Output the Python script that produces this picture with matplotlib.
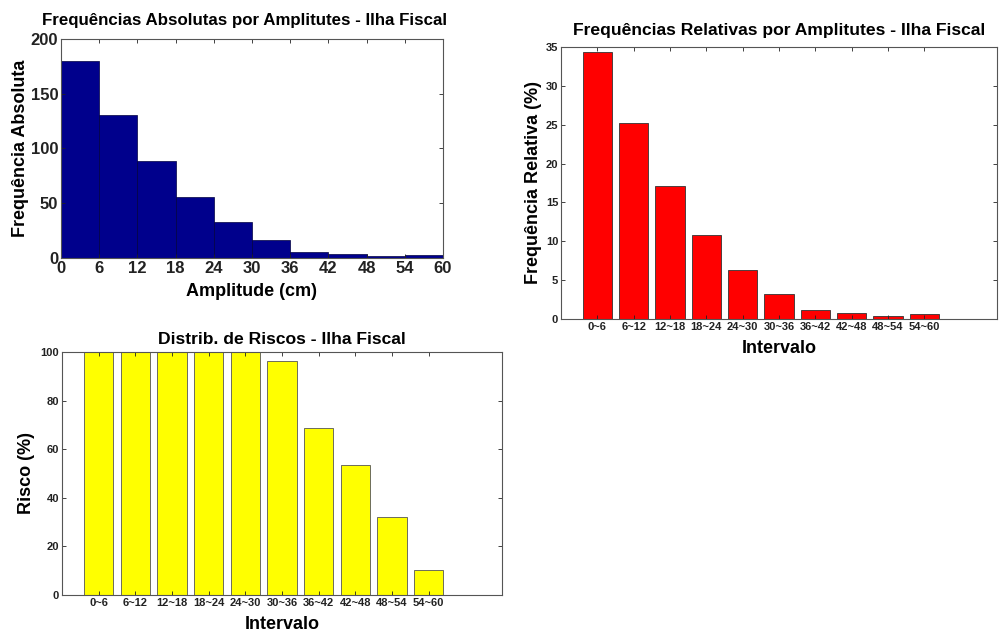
import matplotlib
matplotlib.use("Agg")
import matplotlib.pyplot as plt
import numpy as np

plt.rcParams['font.family'] = ['Liberation Sans', 'DejaVu Sans']
plt.rcParams['font.weight'] = 'bold'

# dados
bordas = [0, 6, 12, 18, 24, 30, 36, 42, 48, 54, 60]
freq_abs = [180, 131, 89, 56, 33, 16, 5.5, 3.5, 1.5, 2.5]
intervalos = ["0~6", "6~12", "12~18", "18~24", "24~30",
              "30~36", "36~42", "42~48", "48~54", "54~60"]
freq_rel = [34.3, 25.2, 17.1, 10.8, 6.3, 3.2, 1.1, 0.8, 0.4, 0.6]
risco = [100, 100, 100, 100, 100, 96.1, 68.7, 53.6, 31.9, 10.1]

W, H = 1001, 641
fig = plt.figure(figsize=(W / 100, H / 100), dpi=100)


def eixo(x0, y0, x1, y1):
    # coordenadas em pixels (origem no topo)
    return fig.add_axes([x0 / W, 1 - y1 / H, (x1 - x0) / W, (y1 - y0) / H])


def estilo(ax, tamanho):
    ax.tick_params(direction='in', top=True, right=True, length=3,
                   width=0.6, labelsize=tamanho, colors='#222222', pad=2)
    for s in ax.spines.values():
        s.set_color('#555555')
        s.set_linewidth(0.8)
    for lab in ax.get_xticklabels() + ax.get_yticklabels():
        lab.set_fontweight('bold')


# histograma
ax1 = eixo(61, 39, 443, 258)
ax1.bar(bordas[:-1], freq_abs, width=np.diff(bordas), align='edge',
        color='#00008C', edgecolor='#000040', linewidth=0.5)
ax1.set_xlim(0, 60)
ax1.set_ylim(0, 200)
ax1.set_xticks(bordas)
ax1.set_yticks([0, 50, 100, 150, 200])
estilo(ax1, 12)
ax1.set_title('Frequências Absolutas por Amplitutes - Ilha Fiscal',
              fontsize=12.2, fontweight='bold', pad=10, x=0.48)
ax1.set_xlabel('Amplitude (cm)', fontsize=13, fontweight='bold', labelpad=5)
ax1.set_ylabel('Frequência Absoluta', fontsize=13, fontweight='bold', labelpad=1)

# frequencias relativas
pos = np.arange(1, len(intervalos) + 1)
ax2 = eixo(561, 47, 997, 319)
ax2.bar(pos, freq_rel, width=0.8, color='#FF0000', edgecolor='#333333',
        linewidth=0.6)
ax2.set_xlim(0, 12)
ax2.set_ylim(0, 35)
ax2.set_xticks(pos)
ax2.set_xticklabels(intervalos)
ax2.set_yticks(range(0, 36, 5))
estilo(ax2, 8)
ax2.set_title('Frequências Relativas por Amplitutes - Ilha Fiscal',
              fontsize=12.6, fontweight='bold', pad=9)
ax2.set_xlabel('Intervalo', fontsize=13, fontweight='bold', labelpad=6)
ax2.set_ylabel('Frequência Relativa (%)', fontsize=13, fontweight='bold',
               labelpad=3)

# riscos
ax3 = eixo(62, 352, 502, 595)
ax3.bar(pos, risco, width=0.8, color='#FFFF00', edgecolor='#555555',
        linewidth=0.6)
ax3.set_xlim(0, 12)
ax3.set_ylim(0, 100)
ax3.set_xticks(pos)
ax3.set_xticklabels(intervalos)
ax3.set_yticks(range(0, 101, 20))
estilo(ax3, 8)
ax3.set_title('Distrib. de Riscos - Ilha Fiscal',
              fontsize=12.6, fontweight='bold', pad=6)
ax3.set_xlabel('Intervalo', fontsize=13, fontweight='bold', labelpad=6)
ax3.set_ylabel('Risco (%)', fontsize=13, fontweight='bold', labelpad=4)

fig.savefig('out.png', dpi=100)
